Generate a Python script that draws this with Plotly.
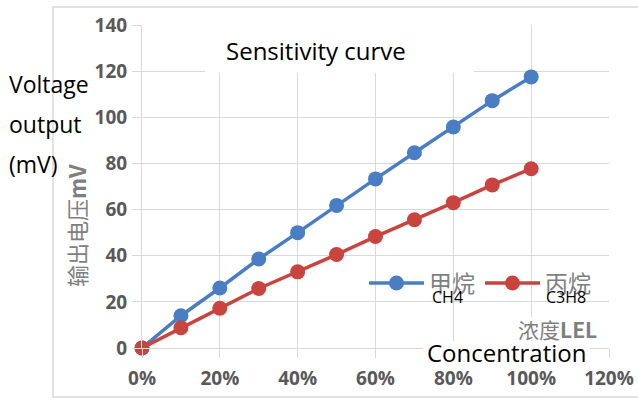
import plotly.graph_objects as go

# ---- data ----
concentration = [0, 0.1, 0.2, 0.3, 0.4, 0.5, 0.6, 0.7, 0.8, 0.9, 1.0]
ch4_mv = [0, 14, 26, 38.6, 50, 61.8, 73.3, 84.6, 95.8, 107.2, 117.5]
c3h8_mv = [0, 8.8, 17.2, 25.8, 33, 40.5, 48.3, 55.6, 63, 70.7, 77.7]
series_names = ["甲烷", "丙烷"]
series_sub = ["CH4", "C3H8"]

W, H = 638, 403
L, R, T, B = 142, 29, 25, 55
PW, PH = W - L - R, H - T - B


def px(x):
    return (x - L) / PW


def py(y):
    return (H - B - y) / PH


BLUE = "#4A7EC4"
RED = "#C9433F"
GRID = "#D9D9D9"
TICK = "#595959"

fig = go.Figure()
for name, ys, col in [(series_names[0], ch4_mv, BLUE), (series_names[1], c3h8_mv, RED)]:
    fig.add_trace(go.Scatter(
        x=concentration, y=ys, name=name, mode="lines+markers",
        line=dict(color=col, width=3.5),
        marker=dict(color=col, size=15),
        cliponaxis=False,
    ))

axis_common = dict(
    showgrid=True, gridcolor=GRID, gridwidth=1,
    showline=True, linecolor=GRID, linewidth=1,
    ticks="outside", ticklen=9, tickcolor=GRID,
    zeroline=False, automargin=False,
    tickfont=dict(family="Open Sans", size=19, color=TICK, weight="bold"),
)

fig.update_layout(
    width=W, height=H,
    margin=dict(l=L, r=R, t=T, b=B),
    paper_bgcolor="white", plot_bgcolor="white",
    xaxis=dict(range=[0, 1.2], dtick=0.2, tickformat=".0%", ticklabelstandoff=4, **axis_common),
    yaxis=dict(range=[0, 140], dtick=20, ticklabelstandoff=1, **axis_common),
    showlegend=True,
    legend=dict(
        orientation="h", x=px(364), y=py(283), xanchor="left", yanchor="middle",
        bgcolor="rgba(255,255,255,0)",
        font=dict(family="Noto Sans CJK SC", size=23, color="#7F7F7F"),
        itemwidth=55, tracegroupgap=0,
    ),
)


def white_box(x0, x1, y0, y1):
    return dict(type="rect", xref="paper", yref="paper", x0=px(x0), x1=px(x1), y0=py(y1), y1=py(y0),
                fillcolor="white", line=dict(width=0), layer="above")


shapes = [
    white_box(205, 474, 22, 73),    # title box covering gridlines
    white_box(423, 590, 341, 364),  # "Concentration" text box
    white_box(515, 600, 317, 340),  # unit text box
    # outer chart frame
    dict(type="rect", xref="paper", yref="paper", x0=px(53), x1=px(645), y0=py(397), y1=py(7),
         fillcolor="rgba(0,0,0,0)", line=dict(color=GRID, width=1.5), layer="below"),
]
fig.update_layout(shapes=shapes)

ann_font = dict(family="Open Sans", size=23, color="black")
annotations = [
    dict(text="Sensitivity curve", x=px(316), y=py(50), font=dict(family="Open Sans", size=24, color="black")),
    dict(text="Voltage", x=px(7), y=py(84), xanchor="left", font=ann_font),
    dict(text="output", x=px(7), y=py(124), xanchor="left", font=ann_font),
    dict(text="(mV)", x=px(7), y=py(164), xanchor="left", font=ann_font),
    dict(text="输出电压<b>mV</b>", x=px(76), y=py(226), textangle=-90,
         font=dict(family="Noto Sans CJK SC", size=22, color="#7F7F7F")),
    dict(text=series_sub[0], x=px(447), y=py(297), font=dict(family="Open Sans", size=16, color="black")),
    dict(text=series_sub[1], x=px(566), y=py(297), font=dict(family="Open Sans", size=16, color="black")),
    dict(text="Concentration", x=px(506), y=py(352), borderpad=0,
         font=dict(family="Open Sans", size=24, color="black")),
    dict(text="浓度<b>LEL</b>", x=px(557), y=py(329), borderpad=0,
         font=dict(family="Noto Sans CJK SC", size=21, color="#7F7F7F")),
]
for a in annotations:
    a.setdefault("xref", "paper")
    a.setdefault("yref", "paper")
    a.setdefault("showarrow", False)
    a.setdefault("xanchor", "center")
    a.setdefault("yanchor", "middle")
fig.update_layout(annotations=annotations)

fig.write_html("out.html", config={"displayModeBar": False},
               post_script="document.body.style.margin='0';document.body.style.padding='0';")
